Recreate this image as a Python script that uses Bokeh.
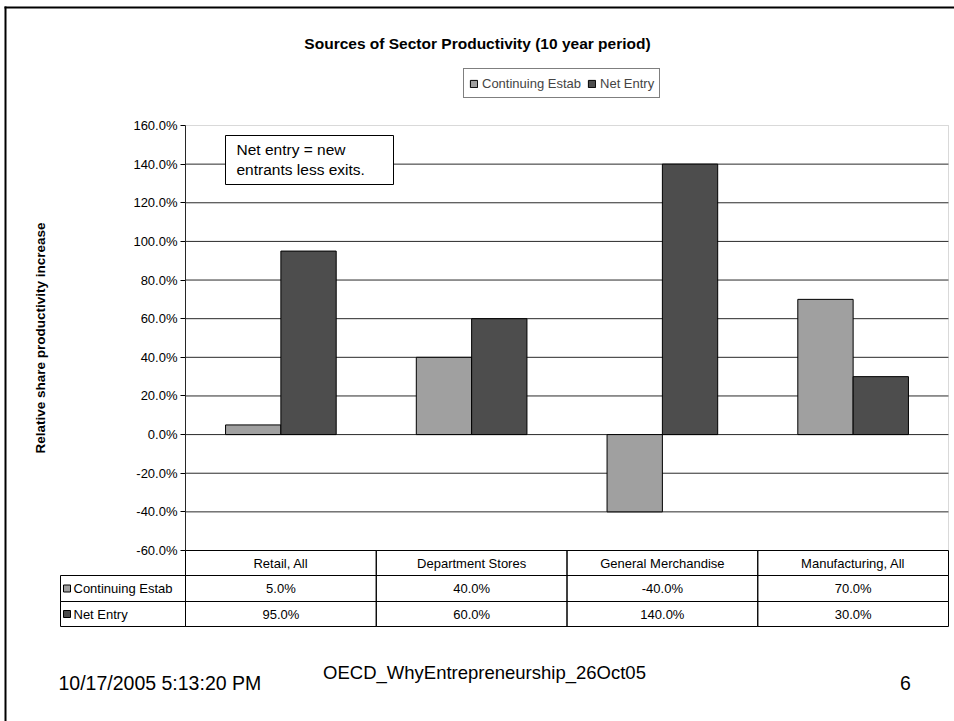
from bokeh.embed import file_html
from bokeh.models import (BoxAnnotation, ColumnDataSource, FixedTicker, Label, Legend,
                          LegendItem, LinearAxis, NumeralTickFormatter, Range1d)
from bokeh.plotting import figure
from bokeh.resources import INLINE
from bokeh.transform import dodge

# ---- data -------------------------------------------------------------
categories = ["Retail, All", "Department Stores", "General Merchandise", "Manufacturing, All"]
series_names = ["Continuing Estab", "Net Entry"]
continuing = [0.05, 0.40, -0.40, 0.70]
net_entry = [0.95, 0.60, 1.40, 0.30]
y_ticks = [-0.6, -0.4, -0.2, 0.0, 0.2, 0.4, 0.6, 0.8, 1.0, 1.2, 1.4, 1.6]

title_text = "Sources of Sector Productivity (10 year period)"
y_label = "Relative share productivity increase"
note_text = "Net entry = new\nentrants less exits."
footer_date = "10/17/2005 5:13:20 PM"
footer_file = "OECD_WhyEntrepreneurship_26Oct05"
page_number = "6"

# ---- page geometry (pixels) -------------------------------------------
W, H = 954, 721
PA_LEFT, PA_RIGHT, PA_TOP, PA_BOTTOM = 185, 948, 125, 550   # plot area on the page
FONT = "Liberation Sans"
LIGHT = "#a0a0a0"
DARK = "#4d4d4d"
GRID = "#2a2a2a"

n_cat = len(categories)
y_lo, y_hi = y_ticks[0], y_ticks[-1]
col_w = (PA_RIGHT - PA_LEFT) / n_cat                 # pixels per category
unit_h = (PA_BOTTOM - PA_TOP) / (y_hi - y_lo)        # pixels per 100 %

# The frame covers the whole page; the ranges are widened so that the
# category / percentage scales land exactly on the plot area.
x_range = Range1d(-PA_LEFT / col_w, n_cat + (W - PA_RIGHT) / col_w)
y_range = Range1d(y_lo - (H - PA_BOTTOM) / unit_h, y_hi + PA_TOP / unit_h)


def sx(px):
    """page x (from left) -> screen units"""
    return px


def sy(py):
    """page y (from top) -> screen units (measured upward from the bottom)"""
    return H - py


p = figure(width=W, height=H, x_range=x_range, y_range=y_range,
           output_backend="svg", toolbar_location=None,
           x_axis_location=None, y_axis_location=None, min_border=0)
p.background_fill_color = "white"
p.border_fill_color = "white"
p.outline_line_color = None
p.grid.visible = False

# ---- horizontal gridlines (inner ticks) -------------------------------
inner = y_ticks[1:-1]
p.segment(x0=[0] * len(inner), x1=[n_cat] * len(inner), y0=inner, y1=inner,
          line_color=GRID, line_width=1)

# plot-area border
p.add_layout(BoxAnnotation(left=0, right=n_cat, top=y_hi, bottom=y_lo,
                           fill_alpha=0, line_color="#808080", line_width=1))

# ---- bars -------------------------------------------------------------
src = ColumnDataSource(dict(x=[i + 0.5 for i in range(n_cat)], cat=categories,
                            cont=continuing, net=net_entry))
BAR_W = 0.29
r_cont = p.vbar(x=dodge("x", -BAR_W / 2), top="cont", bottom=0, width=BAR_W, source=src,
                fill_color=LIGHT, line_color="black", line_width=1)
r_net = p.vbar(x=dodge("x", BAR_W / 2), top="net", bottom=0, width=BAR_W, source=src,
               fill_color=DARK, line_color="black", line_width=1)

# ---- value axis, pinned to the left edge of the plot area --------------
yaxis = LinearAxis(fixed_location=0, bounds=(y_lo, y_hi),
                   ticker=FixedTicker(ticks=y_ticks),
                   formatter=NumeralTickFormatter(format="0.0%"),
                   axis_label=y_label, axis_label_standoff=82,
                   axis_label_text_font=FONT, axis_label_text_font_size="13.5px",
                   axis_label_text_font_style="bold", axis_label_text_color="black",
                   major_label_text_font=FONT, major_label_text_font_size="13px",
                   major_label_text_color="black", major_label_standoff=3,
                   major_tick_out=5, major_tick_in=0, minor_tick_out=0, minor_tick_in=0,
                   axis_line_color="black", major_tick_line_color="black")
p.add_layout(yaxis, "left")

# ---- legend -----------------------------------------------------------
legend = Legend(items=[LegendItem(label=series_names[0], renderers=[r_cont]),
                       LegendItem(label=series_names[1], renderers=[r_net])],
                orientation="horizontal", location=(sx(463), sy(98)),
                margin=0, padding=5, spacing=6, label_standoff=4,
                glyph_width=9, glyph_height=9, label_height=18,
                label_text_font=FONT, label_text_font_size="13px",
                border_line_color="black", border_line_width=1,
                background_fill_color="white", background_fill_alpha=1)
p.add_layout(legend, "center")


def text(x, y, t, size, align="left", baseline="middle", bold=False, x_units="screen"):
    p.add_layout(Label(x=x, y=y, x_units=x_units, y_units="screen", text=t,
                       text_font=FONT, text_font_size=size,
                       text_font_style="bold" if bold else "normal",
                       text_color="black", text_align=align, text_baseline=baseline))


def box(left, right, top, bottom, fill=None, line="black", lw=1, lr_units="screen"):
    p.add_layout(BoxAnnotation(left=left, right=right, top=top, bottom=bottom,
                               left_units=lr_units, right_units=lr_units,
                               top_units="screen", bottom_units="screen",
                               fill_color=fill if fill else "white",
                               fill_alpha=1 if fill else 0,
                               line_color=line if line else "black",
                               line_width=lw, line_alpha=1 if line else 0))


# ---- page frame -------------------------------------------------------
box(sx(4), sx(6), sy(6), sy(H + 5), fill="black", line=None)
box(sx(4), sx(W + 5), sy(6), sy(8), fill="black", line=None)

# ---- title ------------------------------------------------------------
text(sx(477), sy(43), title_text, "15.5px", align="center", bold=True)

# ---- note box ---------------------------------------------------------
box(sx(225), sx(393), sy(135), sy(184), fill="white")
text(sx(236), sy(140), note_text, "15.5px", baseline="top")

# ---- data table under the plot -----------------------------------------
rows = [(550, 575), (575, 601), (601, 626)]
for r, (y0, y1) in enumerate(rows):
    for i in range(n_cat):
        box(i, i + 1, sy(y0), sy(y1), lr_units="data")
    if r > 0:
        box(sx(60), sx(PA_LEFT), sy(y0), sy(y1))

row_mid = [sy((a + b) / 2) for a, b in rows]
for i, cat in enumerate(categories):
    text(i + 0.5, row_mid[0], cat, "13px", align="center", x_units="data")
    text(i + 0.5, row_mid[1], f"{continuing[i] * 100:.1f}%", "13px", align="center",
         x_units="data")
    text(i + 0.5, row_mid[2], f"{net_entry[i] * 100:.1f}%", "13px", align="center",
         x_units="data")

for r, (name, col) in enumerate(zip(series_names, [LIGHT, DARK])):
    ym = row_mid[r + 1]
    box(sx(63), sx(70), ym + 3.5, ym - 3.5, fill=col)
    text(sx(73), ym, name, "13px")

# ---- footer -----------------------------------------------------------
text(sx(58), sy(682), footer_date, "19.5px")
text(sx(484), sy(672), footer_file, "18.5px", align="center")
text(sx(905), sy(682), page_number, "19.5px", align="center")

open("out.html", "w").write(file_html(p, INLINE))
